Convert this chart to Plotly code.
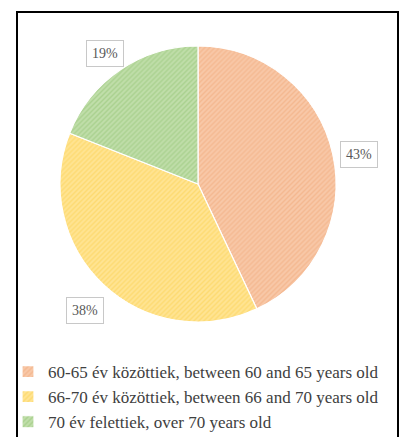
import math
import plotly.graph_objects as go

labels = [
    "60-65 év közöttiek, between 60 and 65 years old",
    "66-70 év közöttiek, between 66 and 70 years old",
    "70 év felettiek, over 70 years old",
]
values = [43, 38, 19]
pct_text = ["43%", "38%", "19%"]

base_colors = ["#F8C8A8", "#FFE493", "#C0DEAA"]
hatch_colors = ["#F0A878", "#FCD050", "#92C374"]

W, H = 401, 437
cx, cy, r = 198, 184, 138
label_cy = 190
label_r = 165

fig = go.Figure()
fig.add_trace(go.Pie(
    labels=labels,
    values=values,
    sort=False,
    direction="clockwise",
    rotation=0,
    textinfo="none",
    hoverinfo="label+percent",
    marker=dict(
        colors=base_colors,
        line=dict(color="white", width=1.2),
        pattern=dict(shape="/", fgcolor=hatch_colors, fillmode="overlay",
                     size=3.5, solidity=0.4),
    ),
    domain=dict(x=[(cx - r) / W, (cx + r) / W], y=[1 - (cy + r) / H, 1 - (cy - r) / H]),
))

# percentage label boxes placed at slice mid-angles (derived from values)
total = sum(values)
cum = 0
for v, t in zip(values, pct_text):
    mid = 2 * math.pi * (cum + v / 2) / total
    cum += v
    px = cx + label_r * math.sin(mid)
    py = label_cy - label_r * math.cos(mid)
    fig.add_annotation(
        x=px / W, y=1 - py / H, xref="paper", yref="paper",
        xanchor="center", yanchor="middle",
        text=t, showarrow=False,
        font=dict(family="Liberation Serif", size=14, color="#595959"),
        bgcolor="white", bordercolor="#C8C8C8", borderwidth=1, borderpad=5,
    )

# outer frame
fig.add_shape(type="rect", xref="paper", yref="paper",
              x0=17 / W, x1=398 / W, y0=-0.05, y1=1 - 12 / H,
              line=dict(color="black", width=2), fillcolor="rgba(0,0,0,0)")

fig.update_layout(
    width=W, height=H,
    margin=dict(l=0, r=0, t=0, b=0, autoexpand=False),
    paper_bgcolor="white",
    plot_bgcolor="white",
    showlegend=True,
    legend=dict(
        x=8 / W, y=1 - 354 / H, xanchor="left", yanchor="top",
        orientation="v",
        font=dict(family="Liberation Serif", size=17, color="#404040"),
        itemwidth=30,
        bgcolor="rgba(0,0,0,0)",
    ),
)

fig.write_html("out.html")
